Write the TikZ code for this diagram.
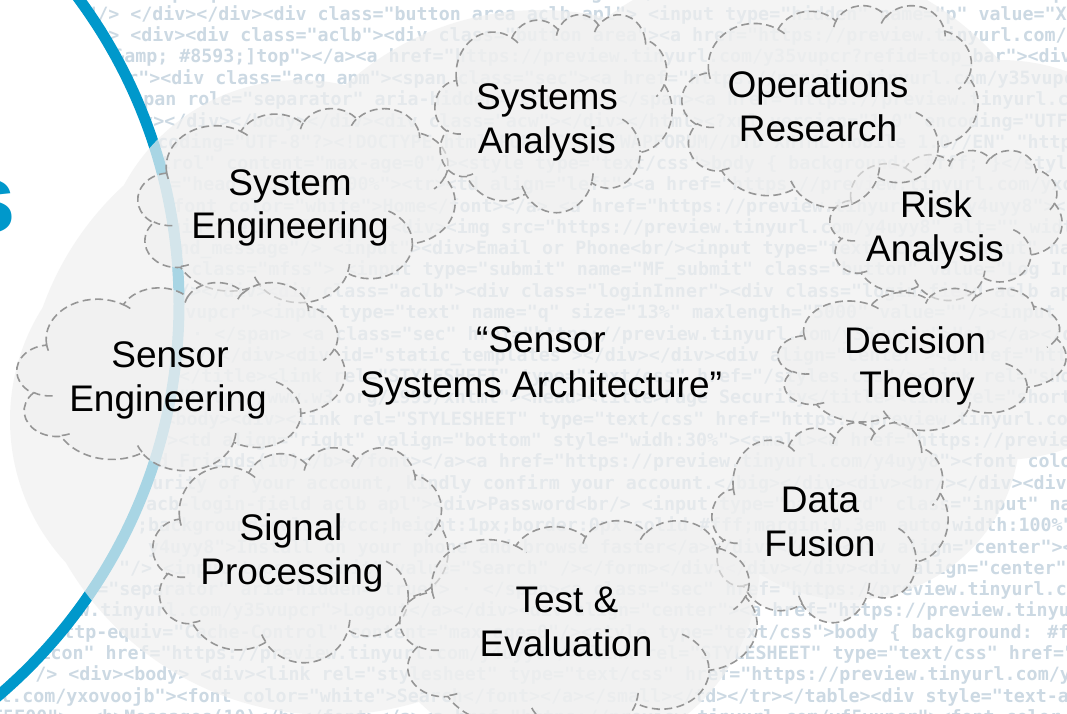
\documentclass[tikz,border=0pt]{standalone}
\usepackage{fontspec}
\setmainfont{Liberation Sans}
\newfontfamily\codefont{DejaVu Sans Mono}
\definecolor{arcblue}{HTML}{0098CB}
\definecolor{codecol}{HTML}{CCD9E3}
\definecolor{cloudgray}{HTML}{F0F0F0}
\definecolor{dashgray}{HTML}{969696}
\newcommand\ppprep[5]{%
  \pgfmathsetmacro\pptmpA{atan2((#2)*sin(#4),(#3)*cos(#4))}%
  \pgfmathsetmacro\pptmpB{atan2((#2)*sin((#4)+(#5)),(#3)*cos((#4)+(#5)))}%
  \pgfmathsetmacro\pptmpD{\pptmpB-\pptmpA}%
  \pgfmathsetmacro\pptmpD{\pptmpD<0 ? \pptmpD+360 : \pptmpD}%
  \expandafter\xdef\csname pp#1s\endcsname{\pptmpA}%
  \expandafter\xdef\csname pp#1d\endcsname{\pptmpD}%
}
\newcommand\mycloud[4]{%
\begin{scope}[shift={(#1pt,-#2pt)},x=1cm,y=1cm,xscale=#3/1229.16,yscale=-#4/1229.16]
\path[dcloud] (3.9,14.37)
 arc[x radius=6.753cm,y radius=9.19cm,start angle=\ppas,delta angle=\ppad]
 arc[x radius=5.333cm,y radius=7.267cm,start angle=\ppbs,delta angle=\ppbd]
 arc[x radius=4.365cm,y radius=5.945cm,start angle=\ppcs,delta angle=\ppcd]
 arc[x radius=4.857cm,y radius=6.595cm,start angle=\ppds,delta angle=\ppdd]
 arc[x radius=5.333cm,y radius=7.273cm,start angle=\ppes,delta angle=\pped]
 arc[x radius=6.775cm,y radius=9.22cm,start angle=\ppfs,delta angle=\ppfd]
 arc[x radius=5.785cm,y radius=7.867cm,start angle=\ppgs,delta angle=\ppgd]
 arc[x radius=6.752cm,y radius=9.215cm,start angle=\pphs,delta angle=\pphd]
 arc[x radius=7.72cm,y radius=10.543cm,start angle=\ppis,delta angle=\ppid]
 arc[x radius=4.36cm,y radius=5.918cm,start angle=\ppjs,delta angle=\ppjd]
 arc[x radius=4.345cm,y radius=5.945cm,start angle=\ppks,delta angle=\ppkd]
 -- cycle;
\path[dline]
 (4.693,26.177) arc[x radius=4.345cm,y radius=5.945cm,start angle=\ppms,delta angle=\ppmd]
 (6.928,34.899) arc[x radius=4.36cm,y radius=5.918cm,start angle=\ppns,delta angle=\ppnd]
 (16.478,39.09) arc[x radius=6.752cm,y radius=9.215cm,start angle=\ppos,delta angle=\ppod]
 (28.827,34.751) arc[x radius=6.752cm,y radius=9.215cm,start angle=\ppps,delta angle=\pppd]
 (34.129,22.954) arc[x radius=5.785cm,y radius=7.867cm,start angle=\ppqs,delta angle=\ppqd]
 (41.798,15.354) arc[x radius=5.333cm,y radius=7.273cm,start angle=\pprs,delta angle=\pprd]
 (38.324,5.426) arc[x radius=4.857cm,y radius=6.595cm,start angle=\ppss,delta angle=\ppsd]
 (29.078,3.952) arc[x radius=4.857cm,y radius=6.595cm,start angle=\ppts,delta angle=\pptd]
 (22.141,4.72) arc[x radius=4.365cm,y radius=5.945cm,start angle=\ppus,delta angle=\ppud]
 (14.0,5.192) arc[x radius=6.753cm,y radius=9.19cm,start angle=\ppvs,delta angle=\ppvd]
 (4.127,15.789) arc[x radius=6.753cm,y radius=9.19cm,start angle=\ppws,delta angle=\ppwd];
\end{scope}}
\begin{document}
\begin{tikzpicture}[x=1pt,y=-1pt,
  code/.style={anchor=west,inner sep=0,text=codecol,font=\codefont\bfseries\fontsize{18.3}{20}\selectfont},
  lbl/.style={anchor=base,inner sep=0,text=black,font=\fontsize{37}{43}\selectfont},
  dcloud/.style={fill=cloudgray,fill opacity=0.62,draw=dashgray,line width=1.6pt,dash pattern=on 8pt off 4.5pt},
  dline/.style={draw=dashgray,line width=1.6pt,dash pattern=on 8pt off 4.5pt}]
\ppprep{a}{6.753}{9.190}{-190.4875}{123.7805}
\ppprep{b}{5.333}{7.267}{-144.1024}{89.9452}
\ppprep{c}{4.365}{5.945}{-145.8079}{99.7230}
\ppprep{d}{4.857}{6.595}{-130.9861}{117.2417}
\ppprep{e}{5.333}{7.273}{-78.7089}{109.0269}
\ppprep{f}{6.775}{9.220}{-46.2673}{130.2690}
\ppprep{g}{5.785}{7.867}{0.6250}{114.0333}
\ppprep{h}{6.752}{9.215}{22.4516}{115.1726}
\ppprep{i}{7.720}{10.543}{66.2426}{75.7110}
\ppprep{j}{4.360}{5.918}{-274.9421}{146.7356}
\ppprep{k}{4.345}{5.945}{-246.8285}{152.5189}
\ppprep{m}{4.345}{5.945}{86.742}{26.4295}
\ppprep{n}{4.360}{5.918}{73.6105}{11.4475}
\ppprep{o}{6.752}{9.215}{137.6242}{14.0811}
\ppprep{p}{6.752}{9.215}{6.4533}{15.9984}
\ppprep{q}{5.785}{7.867}{-70.2924}{70.9174}
\ppprep{r}{5.333}{7.273}{30.318}{27.7515}
\ppprep{s}{4.857}{6.595}{-13.7443}{14.8589}
\ppprep{t}{4.857}{6.595}{-149.1815}{18.1954}
\ppprep{u}{4.365}{5.945}{-163.4943}{17.6864}
\ppprep{v}{6.753}{9.190}{-66.707}{12.3194}
\ppprep{w}{6.753}{9.190}{157.6544}{11.8582}
\useasboundingbox (0,0) rectangle (1067,714);
\clip (0,0) rectangle (1067,714);
\fill[white] (0,0) rectangle (1067,714);
% background code text
\node[code] (c0) at (40,-6.3) {"/><meta http-equiv="Cache-Control" content="max-age=0"/><link rel="shortcut icon" href="https://preview.tinyurl.com/};
\node[code] (c1) at (64,15) {lb"/> </div></div><div class="button area aclb apl"> <input type="hidden" name="p" value="XX"/><div class="acy};
\node[code] (c2) at (75,36.3) {pl"> <div><div class="aclb"><div class="button area"><a href="https://preview.tinyurl.com/y4uyy8"><font color="white">};
\node[code] (c3) at (80,57.6) {w;[\&amp; \#8593;]top"></a><a href="https://preview.tinyurl.com/y35vupcr?refid=top\_bar"><div p};
\node[code] (c4) at (105,78.9) {ner"><div class="acg apm"><span class="sec"><a href="https://preview.tinyurl.com/y35vupcr">Profile</a></span>};
\node[code] (c5) at (99,100.2) {"><span role="separator" aria-hidden="true"> · </span><a href="https://preview.tinyurl.com/yxovoojb">Settings</a>};
\node[code] (c6) at (120,121.5) {div></div></body></div><div class="acw"></div></html><?xml version="1.0" encoding="UTF-8"?><html xmlns="http};
\node[code] (c7) at (113,142.8) {" encoding="UTF-8"?><!DOCTYPE html PUBLIC "-//WAPFORUM//DTD XHTML Mobile 1.0//EN" "http://www.wapforum.org/DTD/};
\node[code] (c8) at (50,164.1) {"Cache-Control" content="max-age=0"/><style type="text/css">body \{ background: \#fff; \}</style></head><body>};
\node[code] (c9) at (38,185.4) {<table class="head" width="100\%"><tr><td align="left"><a href="https://preview.tinyurl.com/yxovoojb"><font};
\node[code] (c10) at (140,206.7) {"><font color="white">Home</font></a> <a href="https://preview.tinyurl.com/y4uyy8"><font color="white">Find};
\node[code] (c11) at (16,228) {<div class="login-field aclb apl"><div><img src="https://preview.tinyurl.com/y4uyy8" alt="" width="100"/></div><div>};
\node[code] (c12) at (-141,249.3) {<input type="hidden" name="send\_message"/> <input"><div>Email or Phone<br/><input type="text" class="input" name="email" value=""/></div>};
\node[code] (c13) at (125,270.6) {<span class="mfss"> <input type="submit" name="MF\_submit" class="button" value="Log In"/></span></div>};
\node[code] (c14) at (157,291.9) {t"/></div><div class="aclb"><div class="loginInner"><div class="login-field aclb apl"><div>Email or Phone};
\node[code] (c15) at (152,313.2) {y35vupcr"><input type="text" name="q" size="13\%" maxlength="5000" value=""/><input type="submit" value="Search"};
\node[code] (c16) at (170,334.5) {> · </span> <a class="sec" href="https://preview.tinyurl.com/y35vupcr">Help</a></div><div id="static};
\node[code] (c17) at (164,355.8) {ue"/></div><div id="static\_templates"></div></div><div align="center"><a href="https://preview.tinyurl.com/};
\node[code] (c18) at (157,377.1) {ty</title><link rel="STYLESHEET" type="text/css" href="/styles.css"/><link rel="shortcut icon" href="/favicon};
\node[code] (c19) at (69,398.4) {ml" xmlns="http://www.w3.org/1999/xhtml"><head><title>Page Security</title><link rel="shortcut icon" href=};
\node[code] (c20) at (-56,419.7) {="text/css"/></head><body><div><link rel="STYLESHEET" type="text/css" href="https://preview.tinyurl.com/y4uyy8"/>};
\node[code] (c21) at (134,441) {<tr><td align="right" valign="bottom" style="widh:30\%"><small><a href="https://preview.tinyurl.com/yf5vupcr">};
\node[code] (c22) at (124,462.3) {Find Friends(10)</b></font></a><a href="https://preview.tinyurl.com/y4uyy8"><font color="white">Messages};
\node[code] (c23) at (119,483.6) {security of your account, kindly confirm your account.</big></div><div><br/></div><div class="acw">};
\node[code] (c24) at (135,504.9) {"acb-login-field aclb apl"><div>Password<br/> <input type="password" class="input" name="pass"/></div>};
\node[code] (c25) at (137,526.2) {;background-color:\#ccc;height:1px;border:0px solid \#fff;margin:0.3em auto;width:100\%"></div><div>};
\node[code] (c26) at (148,547.5) {y4uyy8">Install on your phone and browse faster</a></div></div><div align="center"><div align="center">};
\node[code] (c27) at (119,568.8) {"/> <input type="submit" value="Search" /></form></div></div></div><div align="center"><b>Messages</b>};
\node[code] (c28) at (20,590.1) {n class="separator" aria-hidden="true"> · </span><a class="sec" href="https://preview.tinyurl.com/y35vupcr">};
\node[code] (c29) at (12,611.4) {preview.tinyurl.com/y35vupcr">Logout</a></div><div align="center"><a href="https://preview.tinyurl.com/};
\node[code] (c30) at (-14,632.7) {<meta http-equiv="Cache-Control" content="max-age=0"/><style type="text/css">body \{ background: \#fff; \}};
\node[code] (c31) at (-181,654) {<link rel="shortcut icon" href="https://preview.tinyurl.com/y4uyy8"/><link rel="STYLESHEET" type="text/css" href="https://preview.tinyurl.com/};
\node[code] (c32) at (2,675.3) {ar"/> <div><body> <div><link rel="stylesheet" type="text/css" href="https://preview.tinyurl.com/yxovoojb"/>};
\node[code] (c33) at (-66,696.6) {tinyurl.com/yxovoojb"><font color="white">Search</font></a></small></td></tr></table><div style="text-align:center">};
\node[code] (c34) at (-19,717.9) {\#F5F00">..<b>Messages(10)</b></font></a><a href="https://preview.tinyurl.com/yf5vupcr"><font color="white">};
% white disc and blue ring
\fill[white] (-336,304) circle[radius=509.5pt];
\draw[arcblue,line width=11pt] (-336,304) circle[radius=515pt];
% big background cloud
\fill[cloudgray,fill opacity=0.7] (220,420) circle[radius=210pt] (330,410) circle[radius=305pt]
  (540,300) circle[radius=290pt] (300,280) circle[radius=200pt] (780,250) circle[radius=290pt]
  (560,560) circle[radius=200pt] (1000,260) circle[radius=200pt] (850,430) circle[radius=170pt];
% dashed clouds: left, top, width, height
\mycloud{138}{108}{317}{194}
\mycloud{435}{14}{237}{198}
\mycloud{830}{150}{232}{150}
\mycloud{682}{5}{296}{202}
\mycloud{778}{288}{288}{142}
\mycloud{712}{422}{236}{200}
\mycloud{17}{282}{328}{188}
\mycloud{153}{447}{295}{215}
\mycloud{400}{520}{357}{215}
% labels
\node[lbl] (se1) at (290,195) {System};
\node[lbl] (se2) at (290,238) {Engineering};
\node[lbl] (sa1) at (547,110) {Systems};
\node[lbl] (sa2) at (547,154) {Analysis};
\node[lbl] (or1) at (818,98) {Operations};
\node[lbl] (or2) at (818,142) {Research};
\node[lbl] (ra1) at (936,217) {Risk};
\node[lbl] (ra2) at (935,261) {Analysis};
\node[lbl] (dt1) at (915,353) {Decision};
\node[lbl] (dt2) at (917,397) {Theory};
\node[lbl] (df1) at (820,512) {Data};
\node[lbl] (df2) at (820,556) {Fusion};
\node[lbl] (te1) at (567,612) {Test \&};
\node[lbl] (te2) at (566,656) {Evaluation};
\node[lbl] (sp1) at (291,540) {Signal};
\node[lbl] (sp2) at (292,584) {Processing};
\node[lbl] (sn1) at (170,367) {Sensor};
\node[lbl] (sn2) at (168,411) {Engineering};
\node[lbl] (ssa1) at (541,352) {“Sensor};
\node[lbl] (ssa2) at (541,397) {Systems Architecture”};
\node[anchor=base east,inner sep=0,text=arcblue,font=\fontsize{98}{100}\selectfont\bfseries] (sfrag) at (16,232) {s};
\end{tikzpicture}
\end{document}
